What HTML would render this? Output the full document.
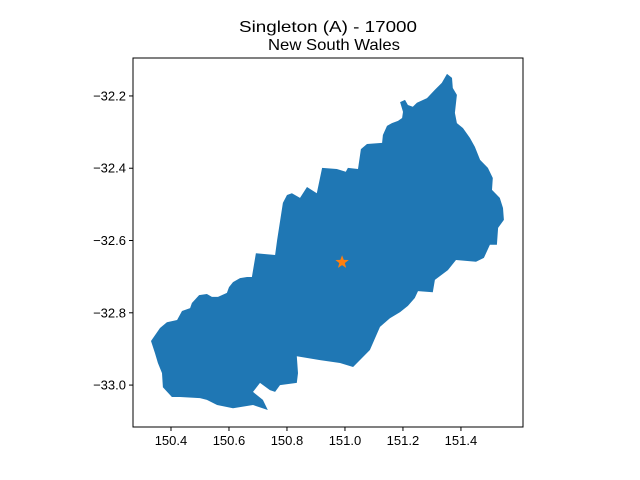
<!DOCTYPE html>
<html><head><meta charset="utf-8"><style>
html,body{margin:0;padding:0;background:#fff;}
svg{display:block;font-family:"Liberation Sans","DejaVu Sans",sans-serif;}
</style></head><body>
<svg id="chart" width="640" height="480" viewBox="0 0 640 480">
<text x="328" y="32" text-anchor="middle" font-size="16" textLength="178" lengthAdjust="spacingAndGlyphs">Singleton (A) - 17000</text>
<text x="334" y="50" text-anchor="middle" font-size="16" textLength="132" lengthAdjust="spacingAndGlyphs">New South Wales</text>
<g id="plot"></g>
</svg>
<script>
const lons=[150.331,150.362,150.386,150.421,150.438,150.466,150.472,150.497,150.524,150.541,150.562,150.593,150.600,150.614,150.638,150.662,150.679,150.693,150.759,150.766,150.786,150.800,150.817,150.845,150.869,150.903,150.921,150.972,151.003,151.010,151.045,151.055,151.076,151.128,151.131,151.145,151.162,151.183,151.197,151.200,151.190,151.207,151.217,151.234,151.248,151.283,151.310,151.334,151.352,151.369,151.372,151.386,151.379,151.386,151.407,151.431,151.448,151.466,151.493,151.510,151.507,151.534,151.545,151.548,151.528,151.524,151.500,151.479,151.452,151.383,151.355,151.310,151.303,151.252,151.241,151.217,151.190,151.155,151.121,151.086,151.028,150.983,150.914,150.834,150.838,150.834,150.776,150.759,150.741,150.707,150.683,150.717,150.734,150.683,150.614,150.559,150.524,150.500,150.431,150.403,150.372,150.369,150.355,150.345];
const lats=[-32.878,-32.842,-32.826,-32.820,-32.795,-32.787,-32.773,-32.751,-32.748,-32.756,-32.756,-32.745,-32.729,-32.715,-32.704,-32.701,-32.701,-32.635,-32.640,-32.599,-32.496,-32.474,-32.469,-32.482,-32.452,-32.469,-32.399,-32.402,-32.410,-32.399,-32.402,-32.347,-32.333,-32.330,-32.308,-32.283,-32.275,-32.269,-32.261,-32.244,-32.217,-32.211,-32.225,-32.230,-32.219,-32.206,-32.183,-32.164,-32.139,-32.150,-32.178,-32.197,-32.247,-32.275,-32.289,-32.316,-32.341,-32.377,-32.399,-32.427,-32.460,-32.482,-32.510,-32.543,-32.565,-32.612,-32.612,-32.648,-32.659,-32.654,-32.682,-32.709,-32.743,-32.740,-32.759,-32.781,-32.798,-32.815,-32.839,-32.903,-32.950,-32.939,-32.931,-32.920,-32.967,-32.994,-33.000,-33.019,-33.014,-32.994,-33.019,-33.041,-33.069,-33.055,-33.064,-33.055,-33.041,-33.036,-33.033,-33.033,-33.006,-32.967,-32.939,-32.912];
const stationLon=[150.990];
const stationLat=[-32.660];
const xTicks=[150.4,150.6,150.8,151.0,151.2,151.4];
const yTicks=[-32.2,-32.4,-32.6,-32.8,-33.0];

const L=133,R=523,T=58,B=427;
const xMin=150.269,xMax=151.614,yMax=-32.095,yMin=-33.116;
const X=v=>L+(v-xMin)/(xMax-xMin)*(R-L);
const Y=v=>T+(yMax-v)/(yMax-yMin)*(B-T);
const NS='http://www.w3.org/2000/svg';
const g=document.getElementById('plot');
function mk(t,a){const e=document.createElementNS(NS,t);for(const k in a)e.setAttribute(k,a[k]);g.appendChild(e);return e;}

let d=lons.map((v,i)=>(i?'L':'M')+X(v).toFixed(1)+','+Y(lats[i]).toFixed(1)).join('')+'Z';
const poly=mk('path',{d:d,fill:'#1f77b4'});



stationLon.forEach((v,i)=>{
  const cx=X(v),cy=Y(stationLat[i]),r=7,ri=2.9;let p='';
  for(let k=0;k<10;k++){const rr=k%2?ri:r;const a=-Math.PI/2+k*Math.PI/5;p+=(k?'L':'M')+(cx+rr*Math.cos(a)).toFixed(2)+','+(cy+rr*Math.sin(a)).toFixed(2);}
  const s=mk('path',{d:p+'Z',fill:'#ff7f0e'});
  
  
});

const fr=mk('rect',{x:L,y:T,width:R-L,height:B-T,fill:'none',stroke:'#000','stroke-width':1});



xTicks.forEach(v=>{
  const x=X(v);
  const tk=mk('line',{x1:x,x2:x,y1:B,y2:B+4,stroke:'#000'});
  
  
  const t=mk('text',{x:x,y:B+18,'text-anchor':'middle','font-size':13});
  t.textContent=v.toFixed(1);
  
  
});
yTicks.forEach(v=>{
  const y=Y(v);
  const tk=mk('line',{x1:L-4,x2:L,y1:y,y2:y,stroke:'#000'});
  
  
  const t=mk('text',{x:L-7,y:y+4.5,'text-anchor':'end','font-size':13});
  t.textContent='\u2212'+Math.abs(v).toFixed(1);
  
  
});
</script>
</body></html>
